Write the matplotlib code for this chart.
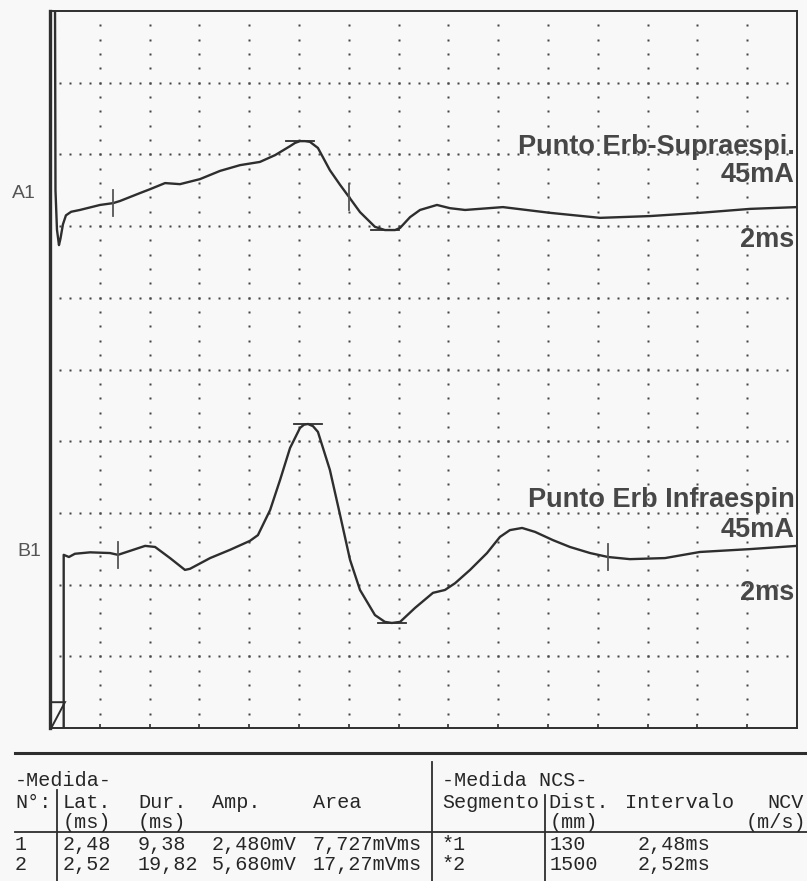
import numpy as np
import matplotlib
matplotlib.use("Agg")
import matplotlib.pyplot as plt
from matplotlib.patches import Polygon

# ---------------- data (ms, mV on screen, 2 ms/div, 2 mV/div) ----------------
t_a = [0.20, 0.22, 0.28, 0.36, 0.42, 0.52, 0.64, 0.85, 1.20, 2.01, 2.53, 2.81,
       3.61, 4.02, 4.62, 5.22, 6.02, 6.83, 7.63, 8.43, 9.04, 9.64, 9.84, 10.04,
       10.24, 10.44, 10.76, 11.24, 11.65, 12.01, 12.45, 13.05, 13.45, 13.86,
       14.06, 14.46, 14.86, 15.54, 16.06, 16.67, 18.19, 20.08, 22.09, 24.10,
       26.10, 28.11, 30.0]
v_a = [20.5, 15.0, 13.9, 13.47, 13.65, 14.05, 14.30, 14.40, 14.45, 14.59, 14.64,
       14.70, 14.92, 15.03, 15.20, 15.17, 15.31, 15.54, 15.70, 15.79, 15.98,
       16.23, 16.32, 16.37, 16.37, 16.35, 16.18, 15.56, 15.15, 14.81, 14.39,
       13.98, 13.89, 13.89, 13.95, 14.25, 14.45, 14.59, 14.50, 14.45, 14.53,
       14.37, 14.23, 14.28, 14.37, 14.48, 14.53]

t_b = [0.55, 0.55, 0.76, 1.00, 1.61, 2.41, 2.73, 3.21, 3.82, 4.22, 4.82, 5.42,
       5.62, 6.43, 7.23, 8.03, 8.35, 8.84, 9.24, 9.64, 10.04, 10.20, 10.36,
       10.56, 10.76, 11.24, 11.65, 12.05, 12.45, 13.05, 13.45, 13.73, 14.06,
       14.66, 15.38, 15.86, 16.27, 16.87, 17.55, 18.07, 18.47, 18.96, 19.48,
       20.20, 20.88, 21.69, 22.41, 23.29, 24.70, 26.10, 28.11, 30.0]
v_b = [0.0, 4.83, 4.77, 4.86, 4.90, 4.88, 4.83, 4.94, 5.08, 5.05, 4.74, 4.41,
       4.44, 4.74, 4.97, 5.22, 5.38, 6.08, 6.92, 7.81, 8.37, 8.46, 8.48, 8.42,
       8.26, 7.20, 5.94, 4.69, 3.85, 3.15, 2.96, 2.93, 2.96, 3.35, 3.77, 3.85,
       4.04, 4.41, 4.88, 5.33, 5.52, 5.58, 5.47, 5.24, 5.05, 4.88, 4.77, 4.71,
       4.74, 4.91, 4.99, 5.08]

marks_a = [2.53, 12.01]   # latency / end markers (ms)
marks_b = [2.73, 22.41]

labels_a = ["Punto Erb-Supraespi.", "45mA", "2ms"]
labels_a_y = [16.21, 15.43, 13.61]
labels_b = ["Punto Erb Infraespin", "45mA", "2ms"]
labels_b_y = [6.36, 5.52, 3.77]
trace_names = ["A1", "B1"]

tab1_title = "-Medida-"
tab1_head = ["N°:", "Lat.", "Dur.", "Amp.", "Area"]
tab1_units = ["", "(ms)", "(ms)", "", ""]
tab1_rows = [["1", "2,48", "9,38", "2,480mV", "7,727mVms"],
             ["2", "2,52", "19,82", "5,680mV", "17,27mVms"]]
tab2_title = "-Medida NCS-"
tab2_head = ["Segmento", "Dist.", "Intervalo", "NCV"]
tab2_units = ["", "(mm)", "", "(m/s)"]
tab2_rows = [["*1", "130", "2,48ms", ""],
             ["*2", "1500", "2,52ms", ""]]

# ---------------- figure ----------------
W, H = 807, 881
bg = "#f8f8f8"
ink = "#2e2e2e"
fig = plt.figure(figsize=(W / 100, H / 100), dpi=100, facecolor=bg)

L, R, T, B = 50, 797, 11, 728
ax = fig.add_axes([L / W, (H - B) / H, (R - L) / W, (B - T) / H])
ax.set_facecolor(bg)
ax.set_xlim(0, 30)
ax.set_ylim(0, 20)
for s in ax.spines.values():
    s.set_color(ink)
    s.set_linewidth(1.4)
ax.spines["left"].set_linewidth(2.4)
ax.set_xticks(np.arange(2, 30, 2))
ax.set_yticks([])
ax.tick_params(axis="x", direction="in", length=3, width=1.2, color=ink,
               labelbottom=False)

# dotted grid
dot = dict(ls="none", marker="s", ms=2.0, color="#444444", mec="none")
gx = np.arange(0.4, 30, 0.4)
for yv in range(2, 20, 2):
    ax.plot(gx, np.full_like(gx, yv), **dot)
gy = np.arange(0.4, 20, 0.4)
for xv in range(2, 30, 2):
    ax.plot(np.full_like(gy, xv), gy, **dot)

# traces
for t, v, marks in [(t_a, v_a, marks_a), (t_b, v_b, marks_b)]:
    ax.plot(t, v, color=ink, lw=1.7, solid_joinstyle="round",
            solid_capstyle="round", zorder=3)
    ta = np.array(t); va = np.array(v)
    for m in marks:
        yv = np.interp(m, ta[2:], va[2:])
        ax.plot([m, m], [yv - 0.36, yv + 0.36], color="#555555", lw=1.3, zorder=3)
    sel = (ta >= marks[0]) & (ta <= marks[1] + 3)
    ts, vs = ta[sel], va[sel]
    ip, it = np.argmax(vs), np.argmin(vs)
    ax.plot([ts[ip] - 0.55, ts[ip] + 0.55], [vs[ip], vs[ip]], color=ink, lw=1.3, zorder=3)
    ax.plot([ts[it] - 0.55, ts[it] + 0.55], [vs[it], vs[it]], color=ink, lw=1.3, zorder=3)

# stimulus symbol at bottom left
ax.add_patch(Polygon([(0.0, 0.72), (0.6, 0.72), (0.05, 0.0)], closed=False,
                     fill=False, ec=ink, lw=1.4, clip_on=False, zorder=4))

# channel texts
for labs, ys in [(labels_a, labels_a_y), (labels_b, labels_b_y)]:
    for s, yv in zip(labs, ys):
        ax.text(29.9, yv, s, ha="right", va="center", fontsize=19.5,
                fontweight="bold", family="Liberation Sans", color="#474747",
                zorder=5)

fig.text(12 / W, 1 - 193 / H, trace_names[0], ha="left", va="center",
         fontsize=14, family="Liberation Sans", color="#555555")
fig.text(17 / W, 1 - 552 / H, trace_names[1], ha="left", va="center",
         fontsize=14, family="Liberation Sans", color="#555555")

# ---------------- measurement table ----------------
def fx(px):
    return px / W

def fy(py):
    return 1 - py / H

mono = dict(family="Liberation Mono", fontsize=14.5, color="#262626",
            va="center", ha="left")
fig.add_artist(plt.Line2D([fx(15), fx(807)], [fy(753), fy(753)], color=ink, lw=2.2))
fig.add_artist(plt.Line2D([fx(15), fx(807)], [fy(832), fy(832)], color=ink, lw=1.3))
fig.add_artist(plt.Line2D([fx(57), fx(57)], [fy(790), fy(881)], color=ink, lw=1.3))
fig.add_artist(plt.Line2D([fx(432), fx(432)], [fy(762), fy(881)], color=ink, lw=1.3))
fig.add_artist(plt.Line2D([fx(545), fx(545)], [fy(795), fy(881)], color=ink, lw=1.3))

y_title, y_head, y_unit, y_rows = 781, 803, 822, [845, 865]

fig.text(fx(15), fy(y_title), tab1_title, **mono)
c1 = [15, 63, 138, 212, 313]
for x, s in zip(c1, tab1_head):
    fig.text(fx(x), fy(y_head), s, **mono)
for x, s in zip(c1, tab1_units):
    if s:
        fig.text(fx(x), fy(y_unit), s, **mono)
for r, yy in zip(tab1_rows, y_rows):
    for x, s in zip(c1, r):
        fig.text(fx(x), fy(yy), s, **mono)

fig.text(fx(442), fy(y_title), tab2_title, **mono)
c2 = [442, 548, 625, 767]
for x, s in zip(c2, tab2_head):
    fig.text(fx(x), fy(y_head), s, **mono)
fig.text(fx(550), fy(y_unit), tab2_units[1], **mono)
fig.text(fx(806), fy(y_unit), tab2_units[3], **dict(mono, ha="right"))
c2r = [442, 550, 638, 767]
for r, yy in zip(tab2_rows, y_rows):
    for x, s in zip(c2r, r):
        if s:
            fig.text(fx(x), fy(yy), s, **mono)

fig.savefig("out.png", dpi=100, facecolor=bg)
